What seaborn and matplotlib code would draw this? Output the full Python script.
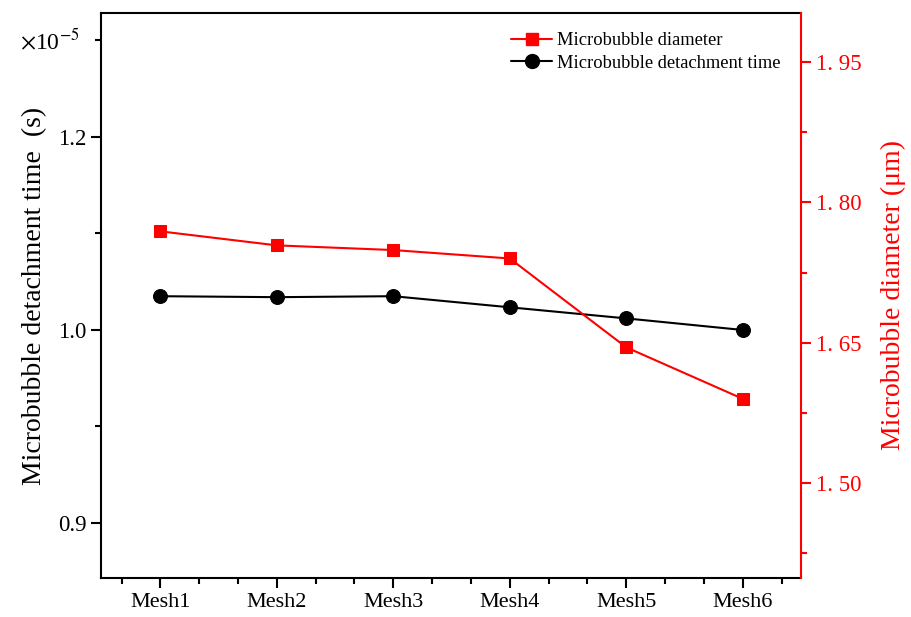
import matplotlib
matplotlib.use("Agg")
import matplotlib.pyplot as plt
import seaborn as sns
import pandas as pd
from matplotlib.ticker import FixedLocator, MultipleLocator
from matplotlib.lines import Line2D

sns.set_style("ticks")
plt.rcParams["font.family"] = ["Liberation Serif", "DejaVu Serif"]
plt.rcParams["mathtext.fontset"] = "stix"
plt.rcParams["text.color"] = "black"
plt.rcParams["axes.labelcolor"] = "black"
plt.rcParams["xtick.color"] = "black"
plt.rcParams["ytick.color"] = "black"

meshes = ["Mesh1", "Mesh2", "Mesh3", "Mesh4", "Mesh5", "Mesh6"]
detach_time = [1.035, 1.034, 1.035, 1.0235, 1.012, 1.000]   # x1e-5 s
diameter = [1.769, 1.754, 1.749, 1.740, 1.645, 1.590]        # um
time_tick_pos = [0.8, 1.0, 1.2]
time_tick_labels = ["0.9", "1.0", "1.2"]
diam_ticks = [1.50, 1.65, 1.80, 1.95]
diam_tick_labels = ["1. 50", "1. 65", "1. 80", "1. 95"]

df = pd.DataFrame({"pos": range(1, len(meshes) + 1),
                   "time": detach_time, "diam": diameter})

fig = plt.figure(figsize=(9.12, 6.17), dpi=100)
ax = fig.add_axes([0.1107, 0.0632, 0.7676, 0.9158])
ax2 = ax.twinx()

sns.lineplot(data=df, x="pos", y="time", ax=ax, color="black", marker="o",
             markersize=10, markeredgecolor="black", linewidth=1.5)
sns.lineplot(data=df, x="pos", y="diam", ax=ax2, color="red", marker="s",
             markersize=9, markeredgecolor="red", linewidth=1.5)

ax.set_xlim(0.49, 6.5)
ax.set_ylim(0.743, 1.3285)
ax2.set_ylim(1.3985, 2.0024)

ax.set_xticks(df["pos"])
ax.set_xticklabels(meshes, fontsize=16)
ax.xaxis.set_minor_locator(MultipleLocator(1 / 3))
ax.set_xlabel("")

ax.yaxis.set_major_locator(FixedLocator(time_tick_pos))
ax.set_yticklabels(time_tick_labels, fontsize=16.5)
ax.yaxis.set_minor_locator(FixedLocator([0.9, 1.1, 1.3]))
ax.set_ylabel("Microbubble detachment time  (s)", fontsize=20, labelpad=8)
ax.text(-0.03, 1.3, r"$\times$10$^{-5}$", transform=ax.get_yaxis_transform(),
        ha="right", va="center", fontsize=17)

ax2.yaxis.set_major_locator(FixedLocator(diam_ticks))
ax2.set_yticklabels(diam_tick_labels, fontsize=16.5, color="red")
ax2.yaxis.set_minor_locator(MultipleLocator(0.075))
ax2.set_ylabel("Microbubble diameter (\u03bcm)", fontsize=20, color="red", labelpad=14)

for a in (ax, ax2):
    for s in a.spines.values():
        s.set_linewidth(1.5)
        s.set_visible(True)
        s.set_color("black")
ax2.spines["right"].set_color("red")
ax.spines["right"].set_visible(False)
ax2.spines["left"].set_visible(False)
ax2.spines["top"].set_visible(False)
ax2.spines["bottom"].set_visible(False)

ax.tick_params(axis="both", which="major", direction="out", length=7, width=1.5, colors="black")
ax.tick_params(axis="both", which="minor", direction="out", length=4, width=1.5)
ax2.tick_params(axis="y", which="major", direction="out", length=7, width=1.5, colors="red")
ax2.tick_params(axis="y", which="minor", direction="out", length=4, width=1.5, colors="red")

handles = [
    Line2D([], [], color="red", marker="s", markersize=9, linewidth=1.5),
    Line2D([], [], color="black", marker="o", markersize=10, linewidth=1.5),
]
ax2.legend(handles, ["Microbubble diameter", "Microbubble detachment time"],
           loc="upper right", bbox_to_anchor=(0.995, 0.995), frameon=False,
           fontsize=13.3, handlelength=2.2, handletextpad=0.3, labelspacing=0.3)

fig.savefig("out.png", dpi=100)
